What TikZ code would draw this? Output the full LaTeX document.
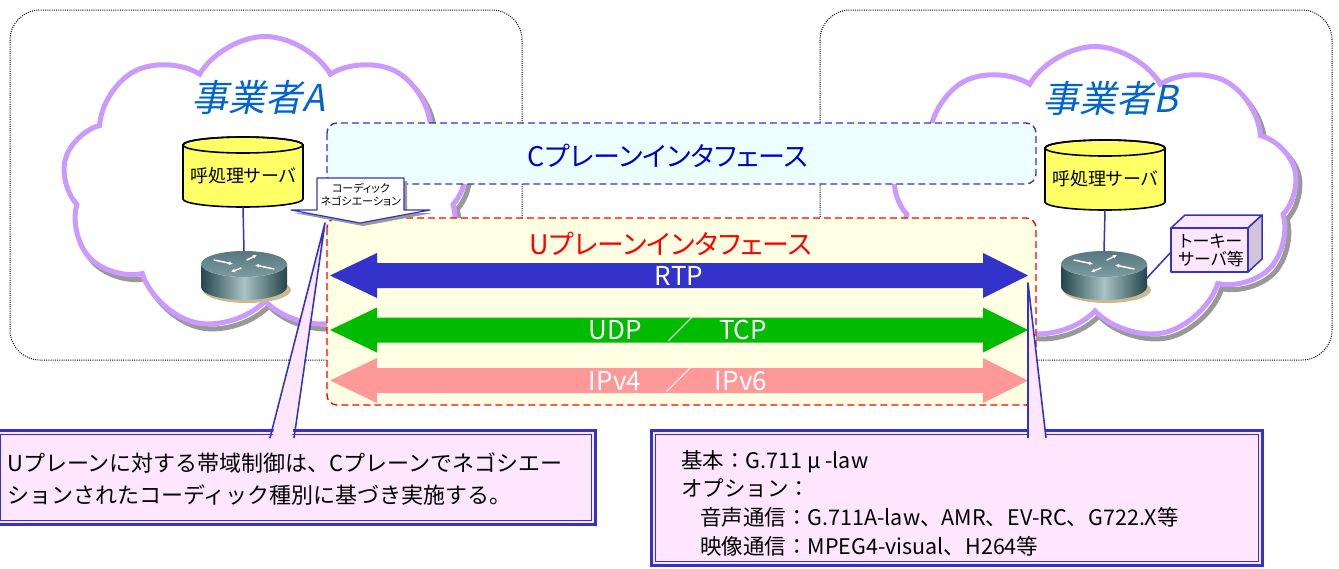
\documentclass[tikz,border=0pt]{standalone}
\usepackage{fontspec}
\setmainfont{Noto Sans CJK JP}[RawFeature=+palt]
\newfontfamily\titlefont{Noto Sans CJK JP}[FakeSlant=0.22]
\newfontfamily\fullwidthfont{Noto Sans CJK JP}
\usetikzlibrary{shapes.symbols,arrows.meta}

\definecolor{cloudpurple}{HTML}{CC99FF}
\definecolor{cloudshadow}{HTML}{999999}
\definecolor{titleblue}{HTML}{0066CC}
\definecolor{lineblue}{HTML}{3333CC}
\definecolor{ctext}{HTML}{0000CC}
\definecolor{cfill}{HTML}{EEFFFF}
\definecolor{ufill}{HTML}{FFFFE3}
\definecolor{rtpblue}{HTML}{3333CC}
\definecolor{udpgreen}{HTML}{00BB00}
\definecolor{ippink}{HTML}{FF9999}
\definecolor{notepink}{HTML}{FFE6FF}
\definecolor{srvyellow}{HTML}{FFFF66}
\definecolor{rdark}{HTML}{24454B}
\definecolor{rlight}{HTML}{A9C2C4}
\definecolor{rtopa}{HTML}{55777E}
\definecolor{rtopb}{HTML}{7E9CA1}
\definecolor{rbase}{HTML}{CBB994}
\definecolor{boxside}{HTML}{D4C4D8}

\tikzset{
  regionbox/.style={draw=black, line width=1pt, dash pattern=on 1pt off 1.2pt, rounded corners=30pt},
  cloudbase/.style={cloud, cloud puffs=9, cloud puff arc=120, line width=5pt,
                    minimum width=405pt, minimum height=295pt, inner sep=0pt},
  cloudshade/.style={cloudbase, draw=cloudshadow},
  cloudline/.style={cloudbase, draw=cloudpurple, fill=white},
  titletext/.style={font=\titlefont\fontsize{37}{37}\selectfont, text=titleblue},
  planebox/.style={line width=1.4pt, dash pattern=on 7pt off 4pt, rounded corners=10pt},
  planetext/.style={font=\fontsize{27}{27}\selectfont},
  arrowlabel/.style={text=white, font=\fontsize{26}{26}\selectfont, inner sep=0pt},
  linkline/.style={draw=lineblue, line width=1.5pt},
  noteouter/.style={draw=lineblue, line width=3pt, fill=notepink},
  noteinner/.style={draw=lineblue, line width=1pt},
  wedge/.style={draw=lineblue, line width=1.6pt, line join=round},
  notetext/.style={align=left, inner sep=0pt},
  server/.pic={
    \path[fill=srvyellow, draw=black, line width=1.6pt]
      (-60,-27) -- (-60,27) arc[start angle=180, end angle=0, x radius=60, y radius=8]
      -- (60,-27) arc[start angle=0, end angle=-180, x radius=60, y radius=8] -- cycle;
    \draw[line width=1.6pt] (0,-27) ellipse [x radius=60, y radius=8];
    \node[font=\fontsize{18}{18}\selectfont, inner sep=0pt] (-label) at (0,4) {呼処理サーバ};
    \coordinate (-bot) at (0,35);
  },
  router/.pic={
    \fill[rbase] (3,15) ellipse [x radius=44, y radius=13];
    \shade[left color=rdark, right color=rdark, middle color=rlight]
      (-43,-11) -- (-43,12) arc[start angle=180, end angle=0, x radius=43, y radius=13]
      -- (43,-11) arc[start angle=0, end angle=180, x radius=43, y radius=13] -- cycle;
    \shade[top color=rtopa, bottom color=rtopb] (0,-11) ellipse [x radius=43, y radius=13];
    \begin{scope}[white, line width=1.4pt, line cap=round, -{Latex[length=4pt, width=4pt]}]
      \draw (-30,-15) -- (-11,-11);
      \draw (30,-6) -- (11,-10);
      \draw (-3,-7) -- (-13,-3);
      \draw (3,-15) -- (13,-20);
    \end{scope}
    \coordinate (-top) at (0,-24);
    \coordinate (-right) at (42,4);
  }
}

\begin{document}
\begin{tikzpicture}[x=1pt, y=-1pt]
\useasboundingbox (0,0) rectangle (1339,568);

% operator regions
\draw[regionbox] (10,10) rectangle (522,360);
\draw[regionbox] (820,10) rectangle (1332,360);

% operator clouds with their drop shadows
\node[cloudshade] (cloudAs) at (269,189) {};
\node[cloudline] (cloudA) at (265,184) {};
\node[cloudshade] (cloudBs) at (1099,199) {};
\node[cloudline] (cloudB) at (1095,194) {};

\node[titletext] (opA) at (258,97) {事業者A};
\node[titletext] (opB) at (1110,98) {事業者B};

% call processing servers and routers
\pic (srvA) at (243,172) {server};
\pic (srvB) at (1105,175) {server};
\pic (rtA) at (244,275) {router};
\pic (rtB) at (1104,275) {router};
\draw[linkline] (srvA-bot) -- (rtA-top);
\draw[linkline] (srvB-bot) -- (rtB-top);

% talkie server box
\coordinate (tkA) at (1171,228);
\coordinate (tkB) at (1248,228);
\coordinate (tkC) at (1248,272);
\coordinate (tkD) at (1171,272);
\coordinate (tkE) at (1185,215);
\coordinate (tkF) at (1262,215);
\coordinate (tkG) at (1262,259);
\draw[linkline] (rtB-right) -- (1171,252);
\filldraw[fill=notepink, draw=lineblue, line width=1.5pt, line join=round]
  (tkA) -- (tkE) -- (tkF) -- (tkB) -- cycle;
\filldraw[fill=boxside, draw=lineblue, line width=1.5pt, line join=round]
  (tkB) -- (tkF) -- (tkG) -- (tkC) -- cycle;
\filldraw[fill=notepink, draw=lineblue, line width=1.5pt, line join=round]
  (tkA) -- (tkB) -- (tkC) -- (tkD) -- cycle;
\node[font=\fontsize{17}{18}\selectfont, align=center, inner sep=0pt] (talkie) at (1211,250) {トーキー\\サーバ等};

% C-plane interface
\draw[planebox, draw=lineblue, fill=cfill] (327,123) rectangle (1036,184);
\node[planetext, text=ctext] (cplane) at (668,156) {Cプレーンインタフェース};

% U-plane interface
\draw[planebox, draw=red, fill=ufill] (327,218) rectangle (1036,405);
\node[planetext, text=red] (uplane) at (671,244) {Uプレーンインタフェース};

% protocol layers as double arrows
\foreach \yy/\col in {275.5/rtpblue, 330/udpgreen, 380.5/ippink} {
  \fill[\col] (330,\yy) -- ++(47,-22.5) -- ++(0,10) -- ++(606,0) -- ++(0,-10)
    -- (1028,\yy) -- (983,\yy+22.5) -- ++(0,-10) -- ++(-606,0) -- ++(0,10) -- cycle;
}
\node[arrowlabel] (rtp) at (679,276) {RTP};
\node[arrowlabel] (udp) at (615,330) {UDP};
\node[arrowlabel] (sl1) at (680,330) {／};
\node[arrowlabel] (tcp) at (743,330) {TCP};
\node[arrowlabel] (ip4) at (615,381) {IPv4};
\node[arrowlabel] (sl2) at (678,381) {／};
\node[arrowlabel] (ip6) at (741,381) {IPv6};

% codec negotiation callout
\fill[cloudshadow] (320,181) -- (407,181) -- (407,213) -- (433,213) -- (363,226) -- (294,213) -- (320,213) -- cycle;
\filldraw[fill=white, draw=lineblue, line width=1.2pt, line join=round]
  (317,178) -- (404,178) -- (404,210) -- (430,210) -- (360,223) -- (291,210) -- (317,210) -- cycle;
\node[font=\fontsize{11}{13}\selectfont, align=center, inner sep=0pt] (codec) at (361,195) {コーディック\\ネゴシエーション};

% note boxes
\draw[noteouter] (-4,430) rectangle (595,524);
\draw[noteinner] (0,434) rectangle (591,520);
\draw[noteouter] (651,430) rectangle (1262,565);
\draw[noteinner] (655,434) rectangle (1258,561);

% callout pointers
\coordinate (ptA) at (325,223);
\coordinate (ptB) at (1028,283);
\fill[notepink] (272,437) -- (ptA) -- (292,437) -- cycle;
\path[wedge] (270,438) -- (ptA) -- (294,438);
\fill[notepink] (1028,437) -- (ptB) -- (1046,437) -- cycle;
\path[wedge] (1028,438) -- (ptB) -- (1046,438);

\node[notetext, anchor=west, font=\fullwidthfont\fontsize{22}{32}\selectfont] (noteA) at (7,479)
  {Uプレーンに対する帯域制御は、Cプレーンでネゴシエー\\ションされたコーディック種別に基づき実施する。};
\node[notetext, anchor=west, font=\fullwidthfont\fontsize{21.5}{28.7}\selectfont] (noteB) at (681,503)
  {基本：G.711 μ -law\\オプション：\\\hspace{19pt}音声通信：G.711A-law、AMR、EV-RC、G722.X等\\\hspace{19pt}映像通信：MPEG4-visual、H264等};
\end{tikzpicture}
\end{document}
